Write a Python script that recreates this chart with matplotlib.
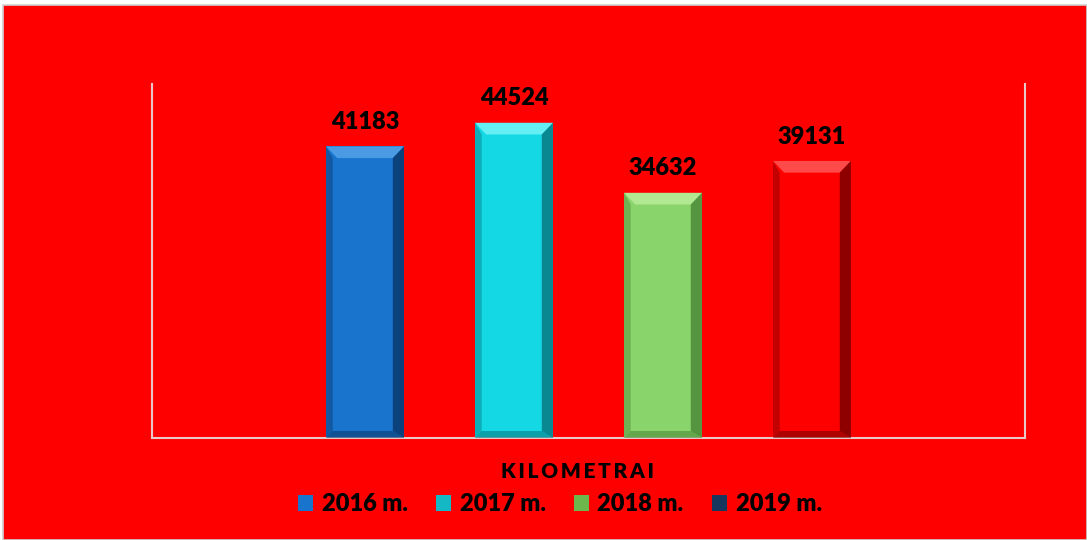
import matplotlib.pyplot as plt
from matplotlib.patches import Polygon, Rectangle, Patch

# duomenys
years = ['2016 m.', '2017 m.', '2018 m.', '2019 m.']
km = [41183, 44524, 34632, 39131]
bar_colors = ['#1874cd', '#14d9e5', '#8ad46c', '#ff0000']
top_colors = ['#4a9be3', '#66eef5', '#b2e892', '#ff4a4a']
side_colors = ['#0b3a6e', '#087a84', '#4d8a38', '#7a0000']
legend_colors = ['#1874cd', '#14b8c4', '#6cb84c', '#17375e']
axis_title = 'KILOMETRAI'

plt.rcParams['font.family'] = ['Lato', 'DejaVu Sans']

fig = plt.figure(figsize=(10.87, 5.40), dpi=100, facecolor='white')
# raudonas fonas
fig.patches.append(Rectangle((3 / 1087, 0), 1 - 3 / 1087, 535 / 540, transform=fig.transFigure,
                             facecolor='#ff0000', edgecolor='#d0d0d0', linewidth=1.2, zorder=-10))

ax = fig.add_axes([152 / 1087, 102 / 540, 873 / 1087, 354 / 540])
ax.set_facecolor('none')
ax.set_xlim(-2.93, 2.93)
ax.set_ylim(0, 50000)
for s in ['left', 'right', 'bottom']:
    ax.spines[s].set_color('#e8c8c8')
    ax.spines[s].set_linewidth(1.5)
ax.spines['top'].set_visible(False)
ax.set_xticks([])
ax.set_yticks([])

width = 0.523
bx = 0.075
by = 1650
for i, v in enumerate(km):
    x = i - 1.5
    l, r = x - width / 2, x + width / 2
    ax.bar(x, v, width=width, color=bar_colors[i], zorder=2)
    # nuožulnūs kraštai
    ax.add_patch(Polygon([(l, v), (r, v), (r - bx, v - by), (l + bx, v - by)],
                         facecolor=top_colors[i], edgecolor='none', zorder=3))
    ax.add_patch(Polygon([(r, v), (r, 0), (r - bx, by * 0.6), (r - bx, v - by)],
                         facecolor=side_colors[i], edgecolor='none', alpha=0.85, zorder=3))
    ax.add_patch(Polygon([(l, v), (l, 0), (l + bx * 0.6, by * 0.6), (l + bx * 0.6, v - by)],
                         facecolor=side_colors[i], edgecolor='none', alpha=0.45, zorder=3))
    ax.add_patch(Polygon([(l, 0), (r, 0), (r - bx, by * 0.6), (l + bx * 0.6, by * 0.6)],
                         facecolor=side_colors[i], edgecolor='none', alpha=0.6, zorder=3))
    ax.text(x, v + 1900, str(v), ha='center', va='bottom', fontsize=17,
            fontweight='heavy', color='black')

fig.text(0.5315, 0.126, '\u2009'.join(axis_title), ha='center', va='center',
         fontsize=15, fontweight='heavy', color='black')

handles = [Patch(facecolor=c, edgecolor='none') for c in legend_colors]
fig.legend(handles, years, loc='center', bbox_to_anchor=(0.515, 0.066), ncol=4,
           frameon=False, handlelength=0.65, handleheight=0.65, handletextpad=0.35,
           columnspacing=1.2, prop={'size': 17, 'weight': 'heavy'})

fig.savefig('out.png', dpi=100, facecolor='white')
